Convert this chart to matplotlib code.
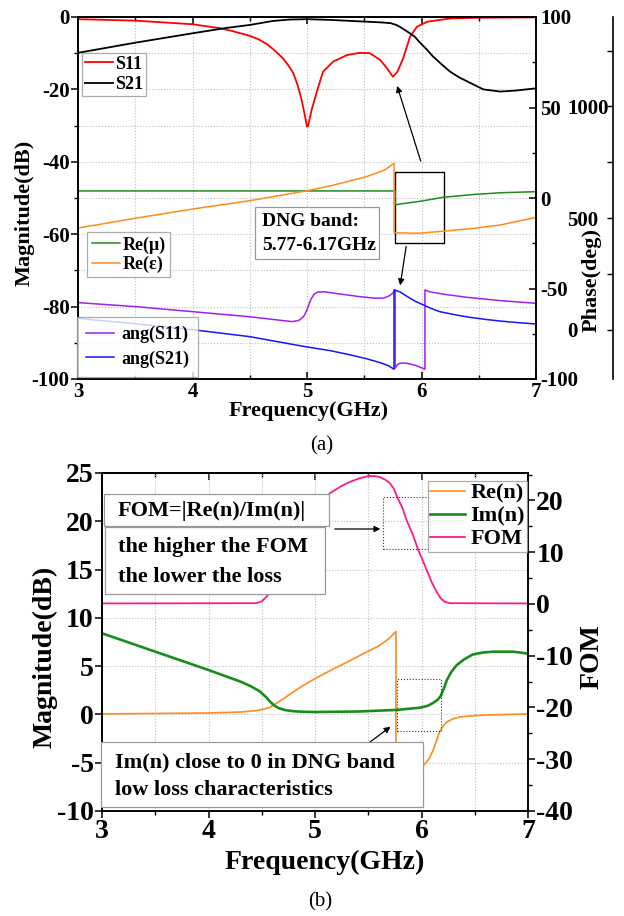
import matplotlib
matplotlib.use('Agg')
import matplotlib.pyplot as plt
from matplotlib.patches import Rectangle
from matplotlib.ticker import MultipleLocator, FixedLocator

plt.rcParams['font.family'] = ['Liberation Serif', 'DejaVu Serif']
plt.rcParams['font.weight'] = 'bold'
plt.rcParams['axes.unicode_minus'] = False

# ---------------- data (a) ----------------
f_s11 = [3.0, 3.5, 4.0, 4.24, 4.35, 4.5, 4.58, 4.65, 4.72, 4.79, 4.84, 4.88, 4.92, 4.95, 4.98, 5.0,
         5.01, 5.04, 5.09, 5.14, 5.23, 5.35, 5.46, 5.55, 5.64, 5.70, 5.75, 5.79, 5.84, 5.90, 5.96,
         6.05, 6.25, 6.5, 7.0]
s11 = [-0.6, -1.0, -2.0, -3.1, -3.9, -5.2, -6.2, -7.5, -9.3, -11.4, -13.5, -15.5, -19.0, -22.5, -27.0, -30.3,
       -30.0, -25.7, -20.2, -15.1, -12.3, -10.5, -9.9, -10.0, -11.9, -14.2, -16.5, -15.1, -11.4, -5.4, -2.7,
       -1.3, -0.4, -0.2, -0.1]

f_s21 = [3.0, 3.5, 4.0, 4.3, 4.5, 4.7, 4.85, 5.0, 5.2, 5.46, 5.65, 5.73, 5.78, 5.81, 5.87, 5.94,
         5.99, 6.05, 6.10, 6.18, 6.25, 6.33, 6.40, 6.54, 6.69, 6.83, 7.0]
s21 = [-9.9, -7.1, -4.5, -3.0, -2.2, -1.1, -0.7, -0.6, -0.8, -1.2, -1.5, -1.7, -2.2, -2.7, -3.9, -5.4,
       -7.2, -9.1, -10.9, -13.2, -15.1, -16.7, -17.8, -20.0, -20.6, -20.3, -19.7]

f_mu = [3.0, 5.77, 5.7701, 6.0, 6.19, 6.45, 6.69, 7.0]
re_mu = [3.9, 3.9, -3.7, -1.7, 0.4, 1.9, 2.9, 3.5]

f_eps = [3.0, 3.5, 4.0, 4.5, 5.0, 5.23, 5.52, 5.68, 5.76, 5.7601, 5.96, 6.2, 6.45, 6.69, 7.0]
re_eps = [-16.6, -11.2, -6.1, -1.5, 4.0, 7.1, 11.8, 15.5, 19.2, -19.2, -19.5, -18.3, -16.8, -14.9, -10.7]

f_a11 = [3.0, 3.5, 4.0, 4.5, 4.8, 4.87, 4.93, 4.97, 5.0, 5.03, 5.06, 5.09, 5.15, 5.25, 5.46, 5.6,
         5.67, 5.72, 5.75, 5.77, 5.7701, 5.79, 5.81, 5.86, 5.9, 5.95, 5.99, 6.03, 6.0301, 6.07, 6.2,
         6.40, 6.69, 7.0]
ang_s11 = [-57.8, -60.0, -62.8, -65.6, -67.8, -68.3, -67.6, -65.5, -61.9, -56.5, -53.3, -52.0, -51.8, -52.7, -54.5, -55.4,
           -55.3, -54.0, -52.5, -50.8, -94.0, -92.0, -91.3, -91.2, -91.7, -92.5, -93.5, -94.6, -50.8, -51.8, -53.2,
           -54.9, -56.7, -58.2]

f_a21 = [3.0, 3.5, 4.02, 4.5, 4.99, 5.2, 5.38, 5.52, 5.64, 5.71, 5.76, 5.7601, 5.81, 5.86, 5.9, 5.95,
         6.0, 6.08, 6.16, 6.3, 6.42, 6.55, 6.69, 6.85, 7.0]
ang_s21 = [-66.5, -69.5, -72.9, -76.6, -82.2, -84.3, -86.7, -88.8, -91.0, -92.6, -94.6, -50.8, -51.8, -53.8, -55.4, -57.2,
           -58.6, -60.9, -62.8, -64.6, -65.9, -67.0, -68.0, -68.9, -69.6]

# ---------------- data (b) ----------------
f_re = [3.0, 3.5, 4.0, 4.3, 4.45, 4.52, 4.58, 4.63, 4.7, 4.78, 4.86, 4.95, 5.05, 5.17, 5.3, 5.49,
        5.6, 5.7, 5.76, 5.7601, 5.9, 6.01, 6.07, 6.11, 6.14, 6.17, 6.21, 6.24, 6.3, 6.36, 6.5, 6.62, 7.0]
re_n = [0.05, 0.1, 0.15, 0.25, 0.4, 0.55, 0.75, 1.1, 1.6, 2.2, 2.8, 3.4, 4.0, 4.7, 5.4, 6.5,
        7.1, 7.9, 8.6, -8.0, -6.8, -5.4, -4.6, -3.7, -2.7, -1.8, -1.1, -0.75, -0.45, -0.26, -0.12, -0.05, 0.05]

f_im = [3.0, 3.5, 4.0, 4.3, 4.4, 4.48, 4.54, 4.58, 4.62, 4.66, 4.72, 4.8, 4.9, 5.0, 5.4, 5.77,
        5.99, 6.06, 6.11, 6.15, 6.18, 6.21, 6.24, 6.28, 6.33, 6.4, 6.48, 6.57, 6.67, 6.86, 7.0]
im_n = [8.4, 6.5, 4.6, 3.4, 2.9, 2.4, 1.8, 1.3, 0.9, 0.65, 0.45, 0.33, 0.27, 0.25, 0.3, 0.47,
        0.7, 0.9, 1.2, 1.5, 1.9, 2.7, 3.6, 4.4, 5.1, 5.7, 6.2, 6.4, 6.5, 6.5, 6.3]

f_fom = [3.0, 4.45, 4.5, 4.55, 4.6, 4.7, 4.8, 4.89, 5.0, 5.14, 5.25, 5.33, 5.42, 5.5, 5.56, 5.61,
         5.66, 5.7, 5.74, 5.77, 5.82, 5.86, 5.92, 5.97, 6.02, 6.06, 6.1, 6.15, 6.18, 6.22, 6.27, 7.0]
fom = [0.1, 0.15, 0.5, 1.5, 3.0, 6.0, 10.5, 14.7, 18.5, 21.4, 22.8, 23.6, 24.3, 24.7, 24.7, 24.5,
       24.0, 23.4, 22.3, 20.7, 18.6, 16.2, 13.3, 10.4, 8.0, 6.0, 4.0, 2.1, 1.1, 0.4, 0.15, 0.1]

W, H = 624, 916
fig = plt.figure(figsize=(6.24, 9.16), dpi=100)


def fx(px):
    return px / W


def fy(py):
    return 1 - py / H


GRID = dict(ls=':', color='#bdbdbd', lw=0.8)

# =============== panel (a) ===============
axA = fig.add_axes([fx(78), fy(379), (536 - 78) / W, (379 - 17) / H])
axA.set_xlim(3, 7)
axA.set_ylim(-100, 0)
axA.xaxis.set_major_locator(MultipleLocator(1))
axA.xaxis.set_minor_locator(MultipleLocator(0.5))
axA.yaxis.set_major_locator(MultipleLocator(20))
axA.yaxis.set_minor_locator(MultipleLocator(10))
axA.grid(which='both', **GRID)
axA.tick_params(axis='x', which='both', direction='in', top=True, labelsize=15, pad=2)
axA.tick_params(axis='x', which='major', length=5, width=1.1)
axA.tick_params(axis='x', which='minor', length=3, width=1.0)
axA.tick_params(axis='y', which='both', direction='out', labelsize=15, pad=1)
axA.tick_params(axis='y', which='major', length=5, width=1.1)
axA.tick_params(axis='y', which='minor', length=3, width=1.0)
for s in axA.spines.values():
    s.set_linewidth(1.2)

l_s11, = axA.plot(f_s11, s11, color='#FF0000', lw=1.3)
l_s21, = axA.plot(f_s21, s21, color='#000000', lw=1.3)

axA2 = axA.twinx()
axA2.set_ylim(-100, 100)
axA2.yaxis.set_major_locator(MultipleLocator(50))
axA2.yaxis.set_minor_locator(MultipleLocator(25))
axA2.tick_params(axis='y', which='both', direction='in', labelsize=15, pad=3)
axA2.tick_params(axis='y', which='major', length=5, width=1.1)
axA2.tick_params(axis='y', which='minor', length=3, width=1.0)
for s in axA2.spines.values():
    s.set_linewidth(1.2)

l_mu, = axA2.plot(f_mu, re_mu, color='#1E8C1E', lw=1.1)
l_eps, = axA2.plot(f_eps, re_eps, color='#FF8C1A', lw=1.1)
l_a11, = axA2.plot(f_a11, ang_s11, color='#A020F0', lw=1.1)
l_a21, = axA2.plot(f_a21, ang_s21, color='#1414FF', lw=1.1)

axA3 = axA.twinx()
axA3.spines['right'].set_position(('axes', 1.168))
for s in ['left', 'top', 'bottom']:
    axA3.spines[s].set_visible(False)
axA3.spines['right'].set_linewidth(1.2)
axA3.set_ylim(-220, 1400)
axA3.yaxis.set_major_locator(FixedLocator([0, 500, 1000]))
axA3.yaxis.set_minor_locator(FixedLocator([250, 750, 1250]))
axA3.tick_params(axis='y', which='both', direction='in', labelsize=15, pad=-33)
axA3.tick_params(axis='y', which='major', length=4, width=1.0)
axA3.tick_params(axis='y', which='minor', length=4, width=1.0)

# annotations (a)
axA.add_patch(Rectangle((5.77, -62.4), 0.43, 19.6, fill=False, ec='k', lw=1.0, zorder=5))
axA.annotate('', xy=(5.78, -18.3), xytext=(6.0, -40.5),
             arrowprops=dict(arrowstyle='-|>', color='k', lw=0.9, mutation_scale=9))
axA.annotate('', xy=(5.81, -74.9), xytext=(5.87, -62.6),
             arrowprops=dict(arrowstyle='-|>', color='k', lw=0.9, mutation_scale=9))

LEGKW = dict(loc='upper left', frameon=True, fancybox=False, borderaxespad=0,
             handletextpad=0.15, handlelength=1.55, prop=dict(family='Liberation Serif', weight='bold', size=13))

lg1 = fig.legend([l_s11, l_s21], ['S11', 'S21'], bbox_to_anchor=(fx(82), fy(53)),
                 labelspacing=0.2, borderpad=0.15, **LEGKW)
lg2 = fig.legend([l_mu, l_eps], ['Re(μ)', 'Re(ε)'], bbox_to_anchor=(fx(87), fy(232)),
                 labelspacing=0.1, borderpad=0.25, **LEGKW)
lg3 = fig.legend([l_a11, l_a21], ['ang(S11)', 'ang(S21)'], bbox_to_anchor=(fx(77), fy(317)),
                 labelspacing=0.4, borderpad=0.5, **dict(LEGKW, handletextpad=0.4))
for lg in (lg1, lg2, lg3):
    lg.get_frame().set_edgecolor('#999999')
    lg.get_frame().set_linewidth(0.9)
    lg.set_zorder(10)

rect = Rectangle((fx(255), fy(259)), (379 - 255) / W, (259 - 207) / H, transform=fig.transFigure,
                 fc='white', ec='#999999', lw=0.9, zorder=10)
fig.add_artist(rect)
fig.text(fx(262), fy(222), 'DNG band:', fontsize=14, ha='left', va='center', zorder=11)
fig.text(fx(262), fy(246), '5.77-6.17GHz', fontsize=14, ha='left', va='center', zorder=11)

fig.text(fx(25), fy(213), 'Magnitude(dB)', fontsize=16, rotation=90, ha='center', va='center')
fig.text(fx(592), fy(280), 'Phase(deg)', fontsize=16, rotation=90, ha='center', va='center')
fig.text(fx(309), fy(411), 'Frequency(GHz)', fontsize=16, ha='center', va='center')
fig.text(fx(322), fy(446), '(a)', fontsize=15, fontweight='normal', ha='center', va='center')

# =============== panel (b) ===============
axB = fig.add_axes([fx(102), fy(811), (528 - 102) / W, (811 - 473) / H])
axB.set_xlim(3, 7)
axB.set_ylim(-10, 25)
axB.xaxis.set_major_locator(MultipleLocator(1))
axB.xaxis.set_minor_locator(MultipleLocator(0.5))
axB.yaxis.set_major_locator(MultipleLocator(5))
axB.grid(which='both', **GRID)
axB.tick_params(axis='both', which='both', direction='out', labelsize=20, pad=1)
axB.tick_params(axis='both', which='major', length=5, width=1.1)
axB.tick_params(axis='both', which='minor', length=3, width=1.0)
for s in axB.spines.values():
    s.set_linewidth(1.2)
secB = axB.secondary_xaxis('top')
secB.xaxis.set_major_locator(MultipleLocator(1))
secB.xaxis.set_minor_locator(MultipleLocator(0.5))
secB.tick_params(axis='x', which='both', direction='in', labeltop=False)
secB.tick_params(axis='x', which='major', length=5, width=1.1)
secB.tick_params(axis='x', which='minor', length=3, width=1.0)
secB.spines['top'].set_linewidth(1.2)

l_re, = axB.plot(f_re, re_n, color='#FF8C1A', lw=1.2)
l_im, = axB.plot(f_im, im_n, color='#1A8C1A', lw=1.9)

axB2 = axB.twinx()
axB2.set_ylim(-40, 25.3)
axB2.yaxis.set_major_locator(MultipleLocator(10))
axB2.yaxis.set_minor_locator(MultipleLocator(5))
axB2.tick_params(axis='y', which='both', direction='out', labelsize=20, pad=1)
axB2.tick_params(axis='y', which='major', length=5, width=1.1)
axB2.tick_params(axis='y', which='minor', length=3, width=1.0)
for s in axB2.spines.values():
    s.set_linewidth(1.2)
l_fom, = axB2.plot(f_fom, fom, color='#FF1A8C', lw=1.3)

axB.add_patch(Rectangle((5.64, 17.1), 0.44, 5.4, fill=False, ec='#333333', lw=0.8, ls=':', zorder=5))
axB.add_patch(Rectangle((5.77, -1.7), 0.41, 5.37, fill=False, ec='#333333', lw=0.8, ls=':', zorder=5))
axB.annotate('', xy=(5.64, 19.2), xytext=(5.16, 19.2),
             arrowprops=dict(arrowstyle='-|>', color='k', lw=0.9, mutation_scale=9))
axB.annotate('', xy=(5.73, -1.1), xytext=(5.39, -3.9),
             arrowprops=dict(arrowstyle='-|>', color='k', lw=0.9, mutation_scale=9))

lgB = fig.legend([l_re, l_im, l_fom], ['Re(n)', 'Im(n)', 'FOM'], loc='upper left',
                 bbox_to_anchor=(fx(428), fy(481)), frameon=True, fancybox=False, borderaxespad=0,
                 handletextpad=0.25, handlelength=1.55, labelspacing=0.1, borderpad=0.1,
                 prop=dict(family='Liberation Serif', weight='bold', size=16))
lgB.get_frame().set_edgecolor('#999999')
lgB.get_frame().set_linewidth(0.9)
lgB.set_zorder(10)


def textbox(x0, y0, x1, y1):
    r = Rectangle((fx(x0), fy(y1)), (x1 - x0) / W, (y1 - y0) / H, transform=fig.transFigure,
                  fc='white', ec='#999999', lw=0.9, zorder=10)
    fig.add_artist(r)


textbox(104, 494, 329, 526)
fig.text(fx(118), fy(511), 'FOM=|Re(n)/Im(n)|', fontsize=16, ha='left', va='center', zorder=11)
textbox(105, 527, 325, 594)
fig.text(fx(118), fy(547), 'the higher the FOM', fontsize=16, ha='left', va='center', zorder=11)
fig.text(fx(118), fy(577), 'the lower the loss', fontsize=16, ha='left', va='center', zorder=11)
textbox(101, 742, 423, 807)
fig.text(fx(115), fy(762), 'Im(n) close to 0 in DNG band', fontsize=16, ha='left', va='center', zorder=11)
fig.text(fx(115), fy(790), 'low loss characteristics', fontsize=16, ha='left', va='center', zorder=11)

fig.text(fx(45), fy(657), 'Magnitude(dB)', fontsize=20, rotation=90, ha='center', va='center')
fig.text(fx(592), fy(657), 'FOM', fontsize=20, rotation=90, ha='center', va='center')
fig.text(fx(325), fy(862), 'Frequency(GHz)', fontsize=20, ha='center', va='center')
fig.text(fx(320), fy(902), '(b)', fontsize=15, fontweight='normal', ha='center', va='center')

fig.savefig('out.png', dpi=100)
